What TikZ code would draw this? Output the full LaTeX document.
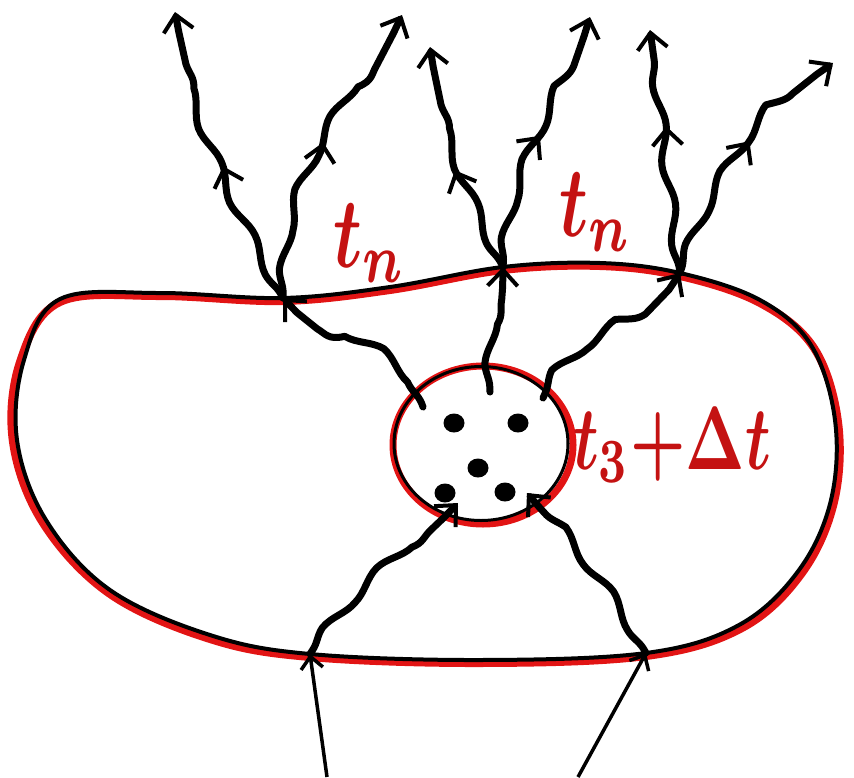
\documentclass[tikz,border=0pt]{standalone}
\usepackage{amsmath}
\usetikzlibrary{decorations.pathmorphing,decorations.markings,arrows.meta,shapes.geometric}
\definecolor{redc}{RGB}{226,20,20}
\definecolor{redt}{RGB}{196,18,18}
\tikzset{
  hb/.tip={Straight Barb[length=16pt,width=30pt,line width=4pt]},
  sb/.tip={Straight Barb[length=12pt,width=22pt,line width=3.5pt]},
  wave/.style={line width=7pt, line cap=round, line join=round, decorate,
    decoration={snake, segment length=80pt, amplitude=4.5pt, pre length=4pt, post length=20pt}},
  midarr/.style={postaction={decorate, decoration={markings, mark=at position #1 with {\arrow{hb}}}}},
  dot/.style={ellipse, fill=black, minimum width=21pt, minimum height=19pt, inner sep=0pt},
  lab/.style={text=redt, inner sep=0pt}
}
\begin{document}
\begin{tikzpicture}[x=1pt,y=-1pt]
\useasboundingbox (0,0) rectangle (854,777);
% junctions and ends
\coordinate (A) at (283,298);
\coordinate (B) at (503,267);
\coordinate (C) at (680,273);
\coordinate (D) at (646,653);
\coordinate (E) at (310,654);
\coordinate (T1) at (175,12);
\coordinate (T2) at (402,15);
\coordinate (T3) at (430,47);
\coordinate (T4) at (590,17);
\coordinate (T5) at (650,30);
\coordinate (T6) at (833,63);
\coordinate (b1) at (327,777);
\coordinate (b2) at (578,777);
\coordinate (s1) at (423,407);
\coordinate (s2) at (490,392);
\coordinate (s3) at (543,398);
\coordinate (l1) at (458,503);
\coordinate (l2) at (527,493);
% blob
\draw[redc, line width=8pt] plot[smooth cycle, tension=0.6] coordinates {
 (60,302) (160,296) (283,301) (390,290) (503,270) (600,266) (680,276) (760,303) (814,348)
 (838,422) (834,502) (802,573) (742,628) (646,656) (480,663) (310,657) (210,639) (110,594)
 (43,523) (13,442) (20,362)};
\draw[black, line width=4pt] plot[smooth cycle, tension=0.6] coordinates {
 (60,299) (160,293) (283,298) (390,287) (503,267) (600,263) (680,273) (760,300) (811,345)
 (835,420) (831,500) (799,570) (739,625) (646,653) (480,660) (310,654) (210,635) (110,590)
 (46,520) (17,440) (24,360)};
% cell
\node[ellipse, draw=redc, line width=7pt, minimum width=180pt, minimum height=158pt] (cell) at (483,445) {};
\draw[black, line width=3pt] ([xshift=-2pt,yshift=1.5pt]cell.center) ellipse (87pt and 77pt);
\node[dot] (d1) at (454,423) {};
\node[dot] (d2) at (518,423) {};
\node[dot] (d3) at (478,468) {};
\node[dot] (d4) at (445,493) {};
\node[dot] (d5) at (505,492) {};
% labels
\node[lab] (tn1) at (370,243) {\scalebox{7}[10]{$\boldsymbol{t_n}$}};
\node[lab] (tn2) at (596,212) {\scalebox{7}[10]{$\boldsymbol{t_n}$}};
\node[lab] (t3) at (672,445) {\scalebox{6.2}[9]{$\boldsymbol{t_3{+}\Delta t}$}};
% outgoing waves
\draw[wave, -hb, midarr=0.5] (A) .. controls (230,200) and (190,100) .. (T1);
\draw[wave, -hb, midarr=0.55] (A) .. controls (285,180) and (355,120) .. (T2);
\draw[wave, -hb, midarr=0.5] (B) .. controls (470,200) and (440,120) .. (T3);
\draw[wave, -hb, midarr=0.55] (B) .. controls (510,180) and (560,120) .. (T4);
\draw[wave, -hb, midarr=0.65] (C) .. controls (670,200) and (660,100) .. (T5);
\draw[wave, -hb, midarr=0.6] (C) .. controls (705,200) and (760,110) .. (T6);
% interior waves
\draw[wave, -hb] (s1) .. controls (410,365) and (320,345) .. (A);
\draw[wave, -hb] (s2) .. controls (488,340) and (505,310) .. (B);
\draw[wave, -hb] (s3) .. controls (560,355) and (650,330) .. (C);
\draw[wave, -hb] (E) .. controls (345,600) and (430,535) .. (l1);
\draw[wave, -hb] (D) .. controls (610,590) and (555,525) .. (l2);
% incoming straight lines
\draw[line width=3.5pt, -sb] (b1) -- (E);
\draw[line width=3.5pt, -sb] (b2) -- (D);
\end{tikzpicture}
\end{document}
